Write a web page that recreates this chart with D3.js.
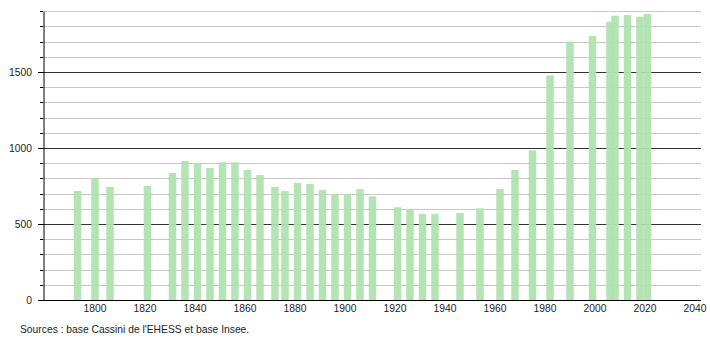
<!DOCTYPE html>
<html>
<head>
<meta charset="utf-8">
<script src="https://cdn.jsdelivr.net/npm/d3@7"></script>
<style>
  body { margin: 0; background: #fff; }
  text { font-family: "Liberation Sans", Arial, sans-serif; }
</style>
</head>
<body>
<script>
// recensements (années) et population
const years = [1793, 1800, 1806, 1821, 1831, 1836, 1841, 1846, 1851, 1856, 1861, 1866,
  1872, 1876, 1881, 1886, 1891, 1896, 1901, 1906, 1911, 1921, 1926, 1931, 1936,
  1946, 1954, 1962, 1968, 1975, 1982, 1990, 1999, 2006, 2008, 2013, 2018, 2021];
const population = [717, 800, 743, 750, 836, 914, 899, 868, 906, 906, 855, 822,
  743, 717, 770, 763, 724, 697, 697, 730, 682, 610, 597, 566, 566,
  572, 603, 730, 855, 984, 1478, 1700, 1737, 1831, 1870, 1875, 1864, 1882];
const xTicks = [1800, 1820, 1840, 1860, 1880, 1900, 1920, 1940, 1960, 1980, 2000, 2020, 2040];
const yTicks = [0, 500, 1000, 1500];
const source = "Sources : base Cassini de l'EHESS et base Insee.";

const width = 710;
const height = 340;

const x = d3.scaleLinear()
  .domain([1779.2, 2042.4])
  .range([43, 701]);

const y = d3.scaleLinear()
  .domain([0, 1900])
  .range([300, 11.2]);

const svg = d3.select('body')
  .append('svg')
  .attr('width', width)
  .attr('height', height);

// lignes de grille
svg.append('g')
  .selectAll('line')
  .data(d3.range(100, 1901, 100))
  .enter().append('line')
  .attr('x1', 43)
  .attr('x2', 701)
  .attr('y1', d => Math.round(y(d)) + 0.5)
  .attr('y2', d => Math.round(y(d)) + 0.5)
  .attr('stroke', d => (d % 500 === 0 ? '#333' : '#c8c8c8'))
  .attr('stroke-width', 1);

// barres
const barW = x(1803) - x(1800);
svg.append('g')
  .selectAll('rect')
  .data(years.map((yr, i) => [yr, population[i]]))
  .enter().append('rect')
  .attr('x', d => x(d[0]) - barW / 2)
  .attr('width', barW)
  .attr('y', d => y(d[1]))
  .attr('height', d => y(0) - y(d[1]))
  .attr('fill', '#b0e2b0')
  .attr('fill-opacity', 0.95);

// axe Y
svg.append('g')
  .attr('transform', 'translate(43.5, 0)')
  .call(d3.axisLeft(y).tickValues(d3.range(0, 1901, 100)).tickSize(0).tickFormat(''))
  .call(g => g.select('.domain').attr('stroke', '#000'));

svg.append('g')
  .selectAll('line')
  .data(d3.range(0, 1901, 100))
  .enter().append('line')
  .attr('x1', d => (d % 500 === 0 ? 38 : 40))
  .attr('x2', 43)
  .attr('y1', d => Math.round(y(d)) + 0.5)
  .attr('y2', d => Math.round(y(d)) + 0.5)
  .attr('stroke', '#000');

svg.append('g')
  .selectAll('text')
  .data(yTicks)
  .enter().append('text')
  .attr('x', 32)
  .attr('y', d => y(d) + 4)
  .attr('text-anchor', 'end')
  .attr('font-size', 10.3)
  .attr('fill', '#222')
  .text(d => d);

// axe X
svg.append('line')
  .attr('x1', 38)
  .attr('x2', 701)
  .attr('y1', 300.5)
  .attr('y2', 300.5)
  .attr('stroke', '#000');

svg.append('g')
  .selectAll('text')
  .data(xTicks)
  .enter().append('text')
  .attr('x', d => x(d))
  .attr('y', 312)
  .attr('text-anchor', 'middle')
  .attr('font-size', 10.3)
  .attr('fill', '#222')
  .text(d => d);

svg.append('text')
  .attr('x', 20)
  .attr('y', 333)
  .attr('font-size', 10.3)
  .attr('fill', '#222')
  .text(source);
</script>
</body>
</html>
